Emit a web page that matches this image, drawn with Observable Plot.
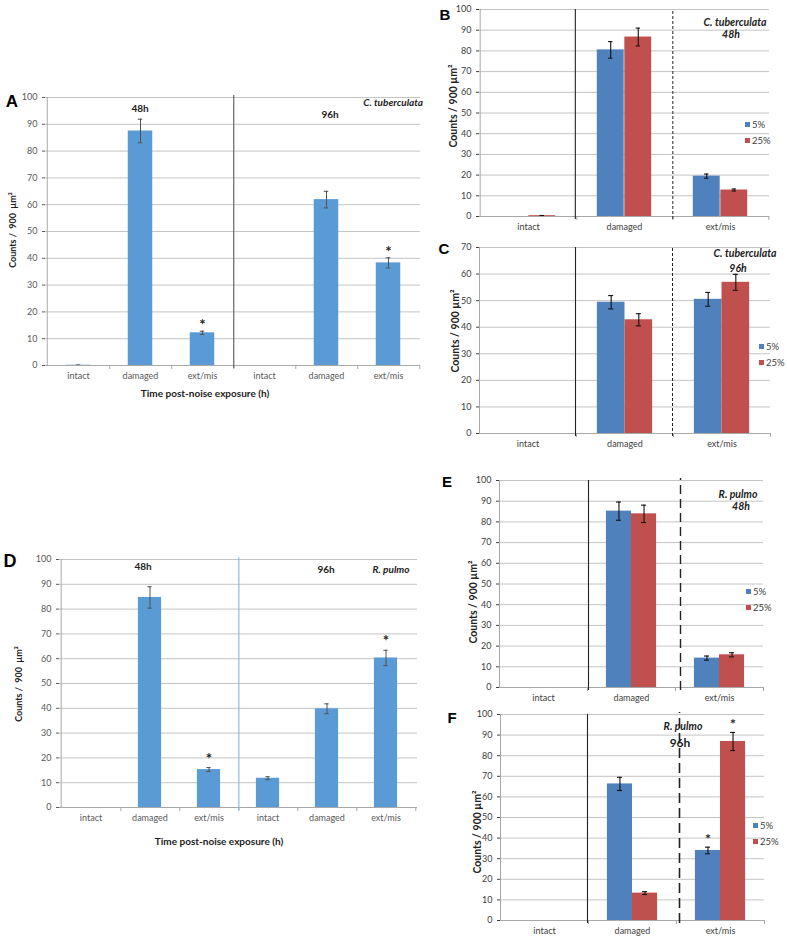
<!DOCTYPE html>
<html><head><meta charset="utf-8">
<script src="https://cdn.jsdelivr.net/npm/d3@7"></script>
<script src="https://cdn.jsdelivr.net/npm/@observablehq/plot@0.6"></script>
<style>
body{margin:0;background:#fff;}
#root{position:relative;width:787px;height:939px;overflow:hidden;background:#fff;}
.abs{position:absolute;white-space:pre;line-height:1;}
</style></head><body><div id="root"></div>
<script>
// ---------- data ----------
const categories = ["intact", "damaged", "ext/mis"];
const times = ["48h", "96h"];
const series = ["5%", "25%"];

// Panel A – C. tuberculata, 48h then 96h
const A_mean = [0.1, 87.5, 12.2, 0, 61.9, 38.3];
const A_err  = [0.1, 4.4, 0.6, 0, 3.1, 1.9];
const A_sig  = [false, false, true, false, false, true];

// Panel D – R. pulmo, 48h then 96h
const D_mean = [0, 84.7, 15.3, 11.8, 39.8, 60.3];
const D_err  = [0, 4.3, 0.8, 0.6, 2.0, 3.1];
const D_sig  = [false, false, true, false, false, true];

// Panel B – C. tuberculata 48h
const B_5 = [0, 80.5, 19.5],   B_5_err = [0, 4.0, 1.0];
const B_25 = [0.4, 86.7, 12.8], B_25_err = [0.1, 4.3, 0.5];
// Panel C – C. tuberculata 96h
const C_5 = [0, 49.4, 50.5],   C_5_err = [0, 2.5, 2.6];
const C_25 = [0, 42.8, 56.9],  C_25_err = [0, 2.3, 3.0];
// Panel E – R. pulmo 48h
const E_5 = [0, 85.2, 14.2],   E_5_err = [0, 4.4, 1.0];
const E_25 = [0, 83.9, 15.8],  E_25_err = [0, 4.2, 1.0];
// Panel F – R. pulmo 96h
const F_5 = [0, 66.3, 34.0],   F_5_err = [0, 3.2, 1.6];
const F_25 = [0, 13.3, 86.9],  F_25_err = [0, 0.7, 4.4];
const F_5_sig = [false, false, true], F_25_sig = [false, false, true];

const yTicks100 = [0, 10, 20, 30, 40, 50, 60, 70, 80, 90, 100];
const yTicks70 = [0, 10, 20, 30, 40, 50, 60, 70];

// ---------- style ----------
const FONT = "Lato, 'Open Sans', sans-serif";
const GRID = "#c4c4c4", AXIS = "#a8a8a8";
const SKY = "#5B9BD5", BLUE = "#4F81BD", RED = "#C0504D";

const root = document.getElementById("root");
function place(node, left, top) {
  const w = document.createElement("div");
  w.className = "abs"; w.style.left = left + "px"; w.style.top = top + "px";
  w.append(node); root.append(w);
}
function label(txt, x, y, o = {}) {
  const d = document.createElement("div");
  d.className = "abs"; d.textContent = txt;
  Object.assign(d.style, {
    left: x + "px", top: y + "px", fontSize: (o.size || 9) + "px",
    fontWeight: o.bold ? "bold" : "normal", fontStyle: o.italic ? "italic" : "normal",
    color: o.color || "#000", fontFamily: o.font || FONT,
    transform: `translate(${o.ax ?? -50}%, -50%)` + (o.rotate ? " rotate(-90deg)" : "")
  });
  root.append(d);
}
function legend(x, y1, y2) {
  [[series[0], BLUE, y1], [series[1], RED, y2]].forEach(([s, c, y]) => {
    const sq = document.createElement("div");
    sq.className = "abs";
    Object.assign(sq.style, {left: x + "px", top: (y - 3) + "px", width: "5px", height: "5px", background: c});
    root.append(sq);
    label(s, x + 7, y, {size: 9.5, ax: 0, color: "#404040"});
  });
}

function singlePanel(p) {
  const ml = 50, mr = 12, mt = 12, mb = 30;
  const keys = times.flatMap(t => categories.map(c => `${t}|${c}`));
  const rows = keys.map((k, i) => ({key: k, v: p.mean[i], e: p.err[i], sig: p.sig[i]}));
  const step = (p.x1 - p.x0) / keys.length;
  const ins = step * p.insetFrac;
  const capIns = (step - 5) / 2;
  const pxPerUnit = (p.yBot - p.yTop) / 100;
  const errRows = rows.filter(d => d.e > 0);
  const svg = Plot.plot({
    width: p.x1 - p.x0 + ml + mr, height: p.yBot - p.yTop + mt + mb,
    marginLeft: ml, marginRight: mr, marginTop: mt, marginBottom: mb,
    style: {background: "none", maxWidth: "none", overflow: "visible", fontFamily: FONT, fontSize: "9px", color: "#595959"},
    x: {domain: keys, padding: 0, tickSize: 0, tickPadding: 7, tickFormat: k => k.split("|")[1], label: null},
    y: {domain: [0, 100], ticks: yTicks100, tickSize: 3, tickPadding: 5, label: null},
    marks: [
      Plot.ruleY(yTicks100.filter(t => t > 0), {stroke: GRID}),
      Plot.barY(rows, {x: "key", y: "v", fill: p.bar, insetLeft: ins, insetRight: ins}),
      Plot.ruleX(errRows, {x: "key", y1: d => d.v - d.e, y2: d => d.v + d.e, stroke: "#505050"}),
      Plot.tickY(errRows, {x: "key", y: d => d.v + d.e, stroke: "#505050", insetLeft: capIns, insetRight: capIns}),
      Plot.tickY(errRows, {x: "key", y: d => d.v - d.e, stroke: "#505050", insetLeft: capIns, insetRight: capIns}),
      Plot.ruleY([0], {stroke: AXIS}),
      Plot.ruleX([keys[0]], {dx: -step / 2, y1: () => 0, y2: () => 100, stroke: AXIS}),
      Plot.ruleX(keys, {dx: step / 2, y1: () => 0, y2: () => -4 / pxPerUnit, stroke: AXIS}),
      Plot.ruleX([keys[2]], {dx: step / 2, y1: () => -3 / pxPerUnit, y2: () => 100.7, stroke: p.divStroke, strokeWidth: 1.2}),
      Plot.text(rows.filter(d => d.sig), {x: "key", y: d => d.v + d.e, text: () => "*", dy: p.starDy,
        lineAnchor: "bottom", fontSize: 15, fontWeight: "bold", fill: "#222"})
    ]
  });
  place(svg, p.x0 - ml, p.yTop - mt);
}

function groupPanel(p) {
  const ml = 50, mr = 12, mt = 12, mb = 30;
  const rows = categories.flatMap((c, i) => [
    {cat: c, s: series[0], v: p.v5[i], e: p.e5[i], sig: p.sig5 ? p.sig5[i] : false},
    {cat: c, s: series[1], v: p.v25[i], e: p.e25[i], sig: p.sig25 ? p.sig25[i] : false}
  ]);
  const step = (p.x1 - p.x0) / 3;
  const bw = step * p.barFrac;
  const outer = step / 2 - bw;
  const pxPerUnit = (p.yBot - p.yTop) / p.ymax;
  const ticks = p.ymax === 70 ? yTicks70 : yTicks100;
  const errMarks = [];
  series.forEach((s, j) => {
    const r = rows.filter(d => d.s === s && d.e > 0);
    const dx = j === 0 ? -bw / 2 : bw / 2;
    const capL = step / 2 + dx - 2.5, capR = step / 2 - dx - 2.5;
    errMarks.push(
      Plot.ruleX(r, {x: "cat", dx, y1: d => d.v - d.e, y2: d => d.v + d.e, stroke: "#111", strokeWidth: 1.1}),
      Plot.tickY(r, {x: "cat", y: d => d.v + d.e, stroke: "#111", strokeWidth: 1.1, insetLeft: capL, insetRight: capR}),
      Plot.tickY(r, {x: "cat", y: d => d.v - d.e, stroke: "#111", strokeWidth: 1.1, insetLeft: capL, insetRight: capR}),
      Plot.text(rows.filter(d => d.s === s && d.sig), {x: "cat", dx, y: d => d.v + d.e, text: () => "*",
        dy: p.starDy || -3, lineAnchor: "bottom", fontSize: 14, fontWeight: "bold", fill: "#222"})
    );
  });
  const svg = Plot.plot({
    width: p.x1 - p.x0 + ml + mr, height: p.yBot - p.yTop + mt + mb,
    marginLeft: ml, marginRight: mr, marginTop: mt, marginBottom: mb,
    style: {background: "none", maxWidth: "none", overflow: "visible", fontFamily: FONT, fontSize: "9px", color: "#404040"},
    x: {domain: categories, padding: 0, tickSize: 0, tickPadding: 7, label: null},
    y: {domain: [0, p.ymax], ticks, tickSize: 3, tickPadding: 5, label: null},
    marks: [
      Plot.ruleY(ticks.filter(t => t > 0), {stroke: GRID}),
      Plot.barY(rows.filter(d => d.s === series[0]), {x: "cat", y: "v", fill: BLUE, insetLeft: outer, insetRight: outer + bw}),
      Plot.barY(rows.filter(d => d.s === series[1]), {x: "cat", y: "v", fill: RED, insetLeft: outer + bw, insetRight: outer}),
      ...errMarks,
      Plot.ruleY([0], {stroke: AXIS}),
      Plot.ruleX([categories[0]], {dx: -step / 2, y1: () => 0, y2: () => p.ymax, stroke: AXIS}),
      Plot.ruleX(categories, {dx: step / 2, y1: () => 0, y2: () => -4 / pxPerUnit, stroke: AXIS}),
      Plot.ruleX([categories[0]], {dx: step / 2 + p.solidDx, y1: () => -3 / pxPerUnit, y2: () => p.ymax, stroke: "#222", strokeWidth: 1.1}),
      Plot.ruleX([categories[1]], {dx: step / 2 + p.dashDx, y1: () => -3 / pxPerUnit, y2: () => p.ymax + p.dashTop / pxPerUnit,
        stroke: "#222", strokeWidth: p.dashW, strokeDasharray: p.dash})
    ]
  });
  place(svg, p.x0 - ml, p.yTop - mt);
}

const LETTER = "'Liberation Sans', Arial, sans-serif";
// ---------- panel A ----------
singlePanel({x0: 45, x1: 420, yTop: 97, yBot: 365, mean: A_mean, err: A_err, sig: A_sig,
  bar: SKY, insetFrac: 0.3, divStroke: "#666", starDy: -1});
label("A", 12, 101, {size: 17, bold: true, font: LETTER});
label("48h", 140, 108, {bold: true, size: 10, color: "#222"});
label("96h", 330, 114, {bold: true, size: 10, color: "#222"});
label("C. tuberculata", 423, 102, {bold: true, italic: true, size: 10, ax: -100, color: "#222"});
label("Counts /  900  µm²", 12, 230, {bold: true, size: 9, rotate: true, color: "#222"});
label("Time post-noise exposure (h)", 205, 393, {bold: true, size: 10, color: "#222"});

// ---------- panel D ----------
singlePanel({x0: 59, x1: 417, yTop: 559, yBot: 807, mean: D_mean, err: D_err, sig: D_sig,
  bar: SKY, insetFrac: 0.3, divStroke: "#8DB9E4", starDy: -4});
label("D", 10, 561, {size: 18, bold: true, font: LETTER});
label("48h", 143, 566, {bold: true, size: 10, color: "#222"});
label("96h", 326, 569, {bold: true, size: 10, color: "#222"});
label("R. pulmo", 391, 569, {bold: true, italic: true, size: 10, color: "#222"});
label("Counts /  900  µm²", 18, 684, {bold: true, size: 9, rotate: true, color: "#222"});
label("Time post-noise exposure (h)", 219, 841, {bold: true, size: 10, color: "#222"});

// ---------- panel B ----------
groupPanel({x0: 479, x1: 769, yTop: 9, yBot: 216, ymax: 100, v5: B_5, e5: B_5_err, v25: B_25, e25: B_25_err,
  barFrac: 0.285, solidDx: -1.5, dashDx: 0, dash: "3,2", dashW: 1, dashTop: 0});
label("B", 445, 14, {size: 15, bold: true, font: LETTER});
label("Counts / 900 µm²", 453, 106, {bold: true, size: 10.5, rotate: true, color: "#222"});
label("C. tuberculata", 735, 22, {bold: true, italic: true, size: 10.5, color: "#222"});
label("48h", 731, 34, {bold: true, italic: true, size: 10.5, color: "#222"});
legend(745, 125, 141);

// ---------- panel C ----------
groupPanel({x0: 479, x1: 770, yTop: 247, yBot: 433, ymax: 70, v5: C_5, e5: C_5_err, v25: C_25, e25: C_25_err,
  barFrac: 0.285, solidDx: -1, dashDx: -1, dash: "3,2", dashW: 1, dashTop: 0});
label("C", 444, 248, {size: 15, bold: true, font: LETTER});
label("Counts / 900 µm²", 455, 331, {bold: true, size: 10.5, rotate: true, color: "#222"});
label("C. tuberculata", 745, 253, {bold: true, italic: true, size: 10.5, color: "#222"});
label("96h", 738, 268, {bold: true, italic: true, size: 10.5, color: "#222"});
legend(759, 347, 363);

// ---------- panel E ----------
groupPanel({x0: 499, x1: 763, yTop: 480, yBot: 687, ymax: 100, v5: E_5, e5: E_5_err, v25: E_25, e25: E_25_err,
  barFrac: 0.285, solidDx: 1, dashDx: 5, dash: "9,5", dashW: 1.4, dashTop: 2});
label("E", 447, 481, {size: 15, bold: true, font: LETTER});
label("Counts / 900 µm²", 473, 602, {bold: true, size: 10.5, rotate: true, color: "#222"});
label("R. pulmo", 738, 494, {bold: true, italic: true, size: 10.5, color: "#222"});
label("48h", 741, 506, {bold: true, italic: true, size: 10.5, color: "#222"});
legend(746, 592, 608);

// ---------- panel F ----------
groupPanel({x0: 500, x1: 764, yTop: 714, yBot: 920, ymax: 100, v5: F_5, e5: F_5_err, v25: F_25, e25: F_25_err,
  sig5: F_5_sig, sig25: F_25_sig, starDy: -3,
  barFrac: 0.285, solidDx: -1, dashDx: 3, dash: "10,5", dashW: 1.6, dashTop: 2});
label("F", 452, 717, {size: 15, bold: true, font: LETTER});
label("Counts / 900 µm²", 477, 832, {bold: true, size: 10.5, rotate: true, color: "#222"});
label("R. pulmo", 683, 726, {bold: true, italic: true, size: 10.5, color: "#222"});
label("96h", 680, 743, {bold: true, size: 12, color: "#222"});
legend(753, 826, 842);
</script>
</body></html>
